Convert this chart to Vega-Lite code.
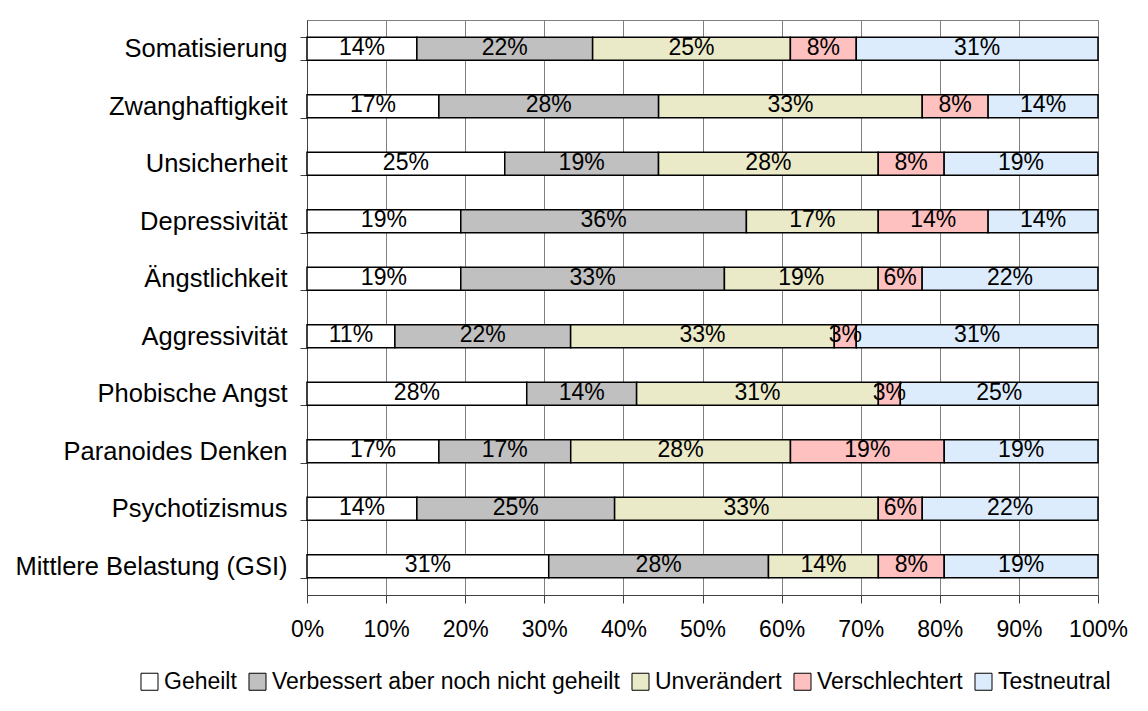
{
  "$schema": "https://vega.github.io/schema/vega-lite/v6.json",
  "autosize": {"type": "none"},
  "padding": {"left": 307, "top": 20, "right": 50, "bottom": 116},
  "width": 791,
  "height": 575,
  "background": "white",
  "config": {
    "font": "Liberation Sans",
    "view": {"stroke": "#808080", "strokeWidth": 1},
    "axis": {"labelFont": "Liberation Sans", "labelColor": "black", "labelFontSize": 23}
  },
  "data": {
    "values": [
      {"cat": "Somatisierung", "status": "Geheilt", "k": 1, "pct": 0.1389},
      {"cat": "Somatisierung", "status": "Verbessert aber noch nicht geheilt", "k": 2, "pct": 0.2222},
      {"cat": "Somatisierung", "status": "Unverändert", "k": 3, "pct": 0.25},
      {"cat": "Somatisierung", "status": "Verschlechtert", "k": 4, "pct": 0.0833},
      {"cat": "Somatisierung", "status": "Testneutral", "k": 5, "pct": 0.3056},
      {"cat": "Zwanghaftigkeit", "status": "Geheilt", "k": 1, "pct": 0.1667},
      {"cat": "Zwanghaftigkeit", "status": "Verbessert aber noch nicht geheilt", "k": 2, "pct": 0.2778},
      {"cat": "Zwanghaftigkeit", "status": "Unverändert", "k": 3, "pct": 0.3333},
      {"cat": "Zwanghaftigkeit", "status": "Verschlechtert", "k": 4, "pct": 0.0833},
      {"cat": "Zwanghaftigkeit", "status": "Testneutral", "k": 5, "pct": 0.1389},
      {"cat": "Unsicherheit", "status": "Geheilt", "k": 1, "pct": 0.25},
      {"cat": "Unsicherheit", "status": "Verbessert aber noch nicht geheilt", "k": 2, "pct": 0.1944},
      {"cat": "Unsicherheit", "status": "Unverändert", "k": 3, "pct": 0.2778},
      {"cat": "Unsicherheit", "status": "Verschlechtert", "k": 4, "pct": 0.0833},
      {"cat": "Unsicherheit", "status": "Testneutral", "k": 5, "pct": 0.1944},
      {"cat": "Depressivität", "status": "Geheilt", "k": 1, "pct": 0.1944},
      {"cat": "Depressivität", "status": "Verbessert aber noch nicht geheilt", "k": 2, "pct": 0.3611},
      {"cat": "Depressivität", "status": "Unverändert", "k": 3, "pct": 0.1667},
      {"cat": "Depressivität", "status": "Verschlechtert", "k": 4, "pct": 0.1389},
      {"cat": "Depressivität", "status": "Testneutral", "k": 5, "pct": 0.1389},
      {"cat": "Ängstlichkeit", "status": "Geheilt", "k": 1, "pct": 0.1944},
      {"cat": "Ängstlichkeit", "status": "Verbessert aber noch nicht geheilt", "k": 2, "pct": 0.3333},
      {"cat": "Ängstlichkeit", "status": "Unverändert", "k": 3, "pct": 0.1944},
      {"cat": "Ängstlichkeit", "status": "Verschlechtert", "k": 4, "pct": 0.0556},
      {"cat": "Ängstlichkeit", "status": "Testneutral", "k": 5, "pct": 0.2222},
      {"cat": "Aggressivität", "status": "Geheilt", "k": 1, "pct": 0.1111},
      {"cat": "Aggressivität", "status": "Verbessert aber noch nicht geheilt", "k": 2, "pct": 0.2222},
      {"cat": "Aggressivität", "status": "Unverändert", "k": 3, "pct": 0.3333},
      {"cat": "Aggressivität", "status": "Verschlechtert", "k": 4, "pct": 0.0278},
      {"cat": "Aggressivität", "status": "Testneutral", "k": 5, "pct": 0.3056},
      {"cat": "Phobische Angst", "status": "Geheilt", "k": 1, "pct": 0.2778},
      {"cat": "Phobische Angst", "status": "Verbessert aber noch nicht geheilt", "k": 2, "pct": 0.1389},
      {"cat": "Phobische Angst", "status": "Unverändert", "k": 3, "pct": 0.3056},
      {"cat": "Phobische Angst", "status": "Verschlechtert", "k": 4, "pct": 0.0278},
      {"cat": "Phobische Angst", "status": "Testneutral", "k": 5, "pct": 0.25},
      {"cat": "Paranoides Denken", "status": "Geheilt", "k": 1, "pct": 0.1667},
      {"cat": "Paranoides Denken", "status": "Verbessert aber noch nicht geheilt", "k": 2, "pct": 0.1667},
      {"cat": "Paranoides Denken", "status": "Unverändert", "k": 3, "pct": 0.2778},
      {"cat": "Paranoides Denken", "status": "Verschlechtert", "k": 4, "pct": 0.1944},
      {"cat": "Paranoides Denken", "status": "Testneutral", "k": 5, "pct": 0.1944},
      {"cat": "Psychotizismus", "status": "Geheilt", "k": 1, "pct": 0.1389},
      {"cat": "Psychotizismus", "status": "Verbessert aber noch nicht geheilt", "k": 2, "pct": 0.25},
      {"cat": "Psychotizismus", "status": "Unverändert", "k": 3, "pct": 0.3333},
      {"cat": "Psychotizismus", "status": "Verschlechtert", "k": 4, "pct": 0.0556},
      {"cat": "Psychotizismus", "status": "Testneutral", "k": 5, "pct": 0.2222},
      {"cat": "Mittlere Belastung (GSI)", "status": "Geheilt", "k": 1, "pct": 0.3056},
      {"cat": "Mittlere Belastung (GSI)", "status": "Verbessert aber noch nicht geheilt", "k": 2, "pct": 0.2778},
      {"cat": "Mittlere Belastung (GSI)", "status": "Unverändert", "k": 3, "pct": 0.1389},
      {"cat": "Mittlere Belastung (GSI)", "status": "Verschlechtert", "k": 4, "pct": 0.0833},
      {"cat": "Mittlere Belastung (GSI)", "status": "Testneutral", "k": 5, "pct": 0.1944}
    ]
  },
  "encoding": {
    "y": {
      "field": "cat", "type": "nominal", "sort": null, "title": null,
      "scale": {"paddingInner": 0.6, "paddingOuter": 0.3},
      "axis": {
        "tickBand": "extent", "ticks": true, "tickSize": 7, "tickColor": "#404040",
        "domainColor": "#404040", "labelPadding": 13, "grid": false,
        "labelFontSize": 25.5, "labelLimit": 400
      }
    }
  },
  "layer": [
    {
      "mark": {"type": "bar", "stroke": "black", "strokeWidth": 1.5},
      "encoding": {
        "x": {
          "field": "pct", "type": "quantitative", "stack": "zero", "title": null,
          "scale": {"domain": [0, 1], "nice": false},
          "axis": {
            "format": ".0%", "values": [0, 0.1, 0.2, 0.3, 0.4, 0.5, 0.6, 0.7, 0.8, 0.9, 1],
            "grid": true, "gridColor": "#808080", "gridOpacity": 1, "gridWidth": 1,
            "tickSize": 8, "tickColor": "#404040", "domainColor": "#404040",
            "labelPadding": 15, "labelFlush": false, "labelOverlap": false
          }
        },
        "order": {"field": "k", "type": "quantitative"},
        "color": {
          "field": "status", "type": "nominal", "title": null,
          "scale": {
            "domain": ["Geheilt", "Verbessert aber noch nicht geheilt", "Unverändert", "Verschlechtert", "Testneutral"],
            "range": ["#FFFFFF", "#C0C0C0", "#EAEAC8", "#FFC0C0", "#DCECFC"]
          },
          "legend": {
            "orient": "none", "direction": "horizontal", "legendX": -169, "legendY": 650,
            "symbolType": "square", "symbolSize": 290, "symbolStrokeColor": "black", "symbolStrokeWidth": 1,
            "symbolOpacity": 1,
            "labelFontSize": 23, "labelColor": "black", "labelFont": "Liberation Sans",
            "labelOffset": 3, "columnPadding": 9, "labelLimit": 500
          }
        }
      }
    },
    {
      "mark": {"type": "text", "fontSize": 23, "color": "black", "baseline": "middle", "align": "center", "dy": -1},
      "encoding": {
        "x": {
          "field": "pct", "type": "quantitative", "stack": "zero", "bandPosition": 0.5, "title": null,
          "scale": {"domain": [0, 1], "nice": false},
          "axis": {
            "format": ".0%", "values": [0, 0.1, 0.2, 0.3, 0.4, 0.5, 0.6, 0.7, 0.8, 0.9, 1],
            "grid": true, "gridColor": "#808080", "gridOpacity": 1, "gridWidth": 1,
            "tickSize": 8, "tickColor": "#404040", "domainColor": "#404040",
            "labelPadding": 15, "labelFlush": false, "labelOverlap": false
          }
        },
        "order": {"field": "k", "type": "quantitative"},
        "text": {"field": "pct", "type": "quantitative", "format": ".0%"}
      }
    }
  ]
}
